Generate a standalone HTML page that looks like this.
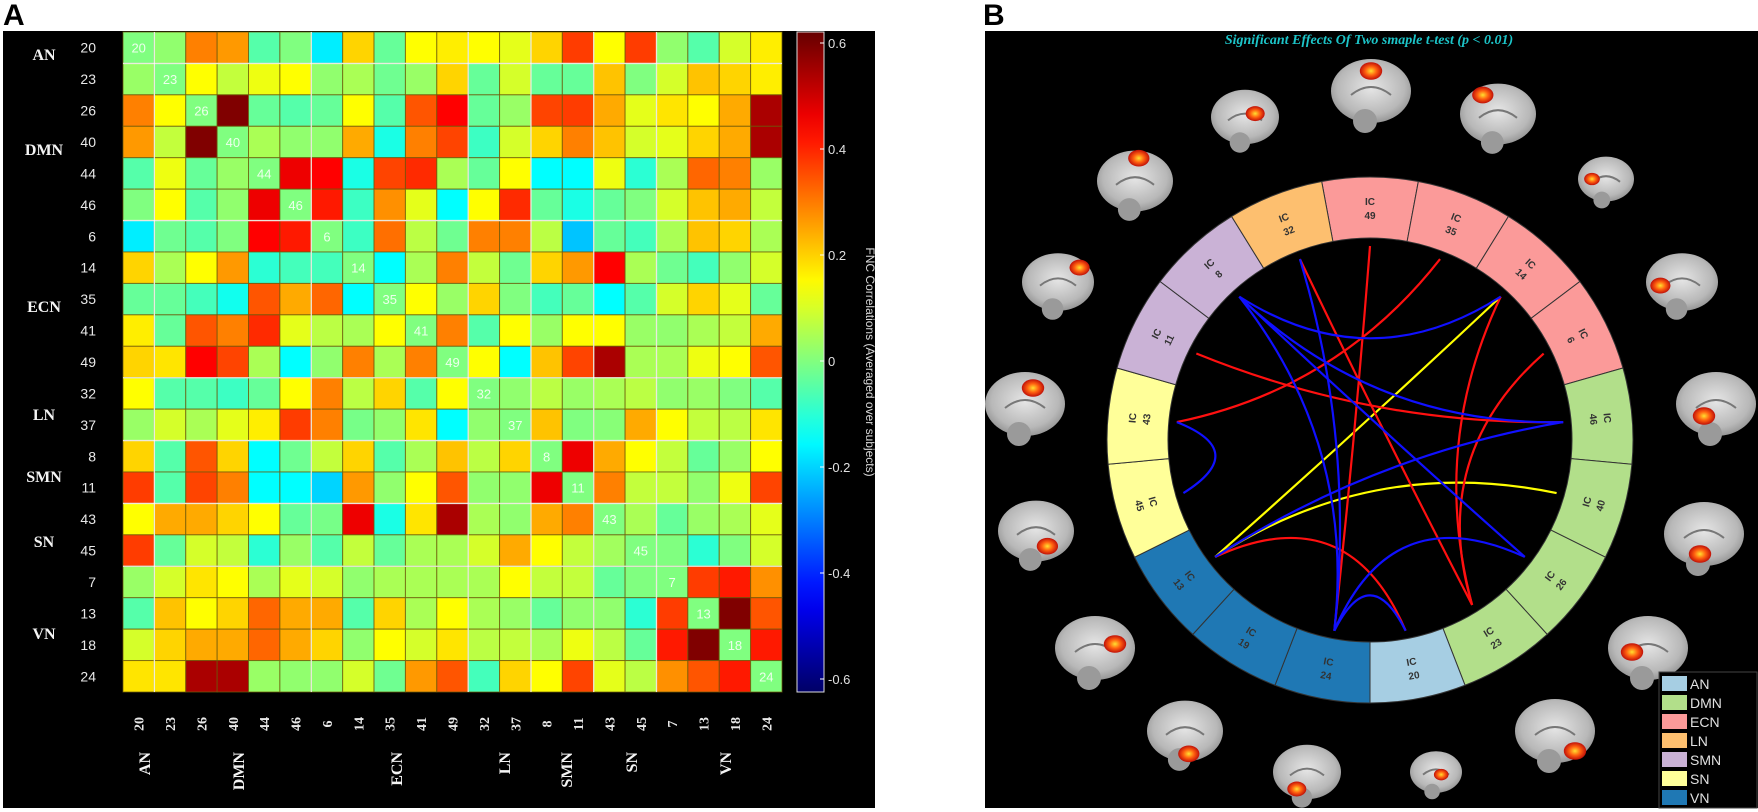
<!DOCTYPE html>
<html><head><meta charset="utf-8"><style>
html,body{margin:0;padding:0;background:#fff;}
svg{display:block;}
</style></head><body>
<svg id="fig" width="1758" height="812" viewBox="0 0 1758 812" xmlns="http://www.w3.org/2000/svg">
<defs>
<linearGradient id="cbgrad" x1="0" y1="1" x2="0" y2="0"></linearGradient>
<radialGradient id="brainGrad" cx="50%" cy="45%" r="60%"><stop offset="0" stop-color="#e6e6e6"/><stop offset="0.7" stop-color="#b8b8b8"/><stop offset="1" stop-color="#8a8a8a"/></radialGradient>
<radialGradient id="blobGrad" cx="50%" cy="50%" r="50%"><stop offset="0" stop-color="#ffe030"/><stop offset="0.5" stop-color="#ff6010"/><stop offset="1" stop-color="#c01008"/></radialGradient>
</defs>
<text x="3" y="25" font-family="Liberation Sans, sans-serif" font-weight="bold" font-size="30" fill="#000">A</text>
<text x="983" y="25" font-family="Liberation Sans, sans-serif" font-weight="bold" font-size="30" fill="#000">B</text>
<rect x="3" y="31" width="872" height="777" fill="#000"/>
<rect x="985" y="31" width="773" height="777" fill="#000"/>
<g id="heat"></g>
<g id="cbar"></g>
<g id="brains"></g>
<g id="ring"></g>
<g id="chords"></g>
<text x="1369" y="44" text-anchor="middle" font-family="Liberation Serif, serif" font-style="italic" font-weight="bold" font-size="14" fill="#1cc4c8">Significant Effects Of Two smaple t-test (p &lt; 0.01)</text>
<g id="legend"></g>
</svg>
<script>
// ---------- Panel A data ----------
const icLabels = ["20","23","26","40","44","46","6","14","35","41","49","32","37","8","11","43","45","7","13","18","24"];
const groupNames = ["AN","DMN","ECN","LN","SMN","SN","VN"];
const groupRowY = [54,149,306,414,476,541,633];
const groupColX = [144,238,396,504,566,631,725];
const boundaryIdx = [1,6,11,13,15,17];
const cbTicks = [0.6,0.4,0.2,0,-0.2,-0.4,-0.6];
const fnc = [
[0,0.02,0.3,0.27,-0.05,0,-0.17,0.2,-0.03,0.15,0.17,0.15,0.12,0.2,0.38,0.15,0.38,0.02,-0.05,0.1,0.17],
[0.03,0,0.15,0.08,0.13,0.15,0.02,0.05,-0.02,0.03,0.2,-0.03,0.1,-0.03,-0.03,0.22,0,0.1,0.22,0.2,0.17],
[0.3,0.15,0,0.6,-0.03,-0.05,-0.03,0.15,-0.05,0.35,0.45,-0.03,0.03,0.37,0.38,0.25,0.12,0.18,0.15,0.25,0.55],
[0.27,0.08,0.6,0,0.05,0.02,0.02,0.25,-0.12,0.3,0.37,-0.08,0.1,0.2,0.3,0.22,0.1,0.12,0.2,0.25,0.55],
[-0.05,0.13,-0.03,0.03,0,0.47,0.45,-0.12,0.37,0.4,0.05,-0.03,0.15,-0.15,-0.15,0.13,-0.1,0.05,0.33,0.3,0.03],
[0,0.15,-0.05,0.02,0.47,0,0.42,-0.08,0.28,0.12,-0.15,0.15,0.4,-0.03,-0.12,-0.03,0,0.1,0.22,0.25,0.08],
[-0.17,-0.02,-0.05,0,0.45,0.42,0,-0.08,0.32,0.07,-0.02,0.3,0.3,0.07,-0.22,-0.03,-0.07,0.05,0.22,0.2,0.05],
[0.2,0.05,0.15,0.27,-0.1,-0.07,-0.07,0,-0.15,0.05,0.3,0.08,-0.02,0.2,0.27,0.45,0.05,-0.02,-0.07,0.02,0.1],
[-0.03,-0.03,-0.07,-0.13,0.35,0.25,0.33,-0.15,0,0.15,0.03,0.2,0,-0.07,-0.03,-0.15,-0.05,0.1,0.2,0.12,-0.03],
[0.17,-0.03,0.35,0.3,0.4,0.12,0.07,0.05,0.15,0,0.3,-0.05,0.15,0.03,0.15,0.15,0.03,0.02,0.05,0.08,0.25],
[0.2,0.18,0.45,0.37,0.05,-0.15,0.02,0.3,0.05,0.3,0,0.15,-0.15,0.22,0.37,0.55,0.05,0.05,0.13,0.15,0.35],
[0.15,-0.05,-0.05,-0.08,-0.03,0.15,0.3,0.07,0.2,-0.05,0.15,0,0.02,0.07,0.03,0.05,0.07,0.02,0.03,0,-0.05],
[0.03,0.1,0.05,0.12,0.17,0.38,0.3,-0.01,0.02,0.18,-0.15,0.02,0,0.22,0,0.01,0.25,0.15,0.08,0.07,0.18],
[0.2,-0.05,0.35,0.2,-0.15,-0.02,0.08,0.2,-0.05,0.05,0.22,0.07,0.2,0,0.47,0.25,0.15,0.08,-0.03,0.03,0.15],
[0.38,-0.05,0.37,0.3,-0.15,-0.15,-0.2,0.27,0.02,0.15,0.35,0.02,0.02,0.47,0,0.3,0.08,0.08,0.02,0.13,0.37],
[0.15,0.25,0.25,0.2,0.15,-0.03,-0.01,0.47,-0.12,0.18,0.55,0.05,0.02,0.25,0.3,0,0.05,-0.03,0.03,0.05,0.12],
[0.38,-0.03,0.1,0.08,-0.1,0.03,-0.05,0.08,-0.03,0.05,0.05,0.1,0.25,0.15,0.08,0.04,0,0,-0.1,0,0.1],
[0.03,0.1,0.18,0.15,0.05,0.12,0.1,0.02,0.05,0.05,0.05,0.05,0.15,0.08,0.08,-0.03,0,0,0.38,0.42,0.28],
[-0.05,0.22,0.15,0.2,0.33,0.25,0.25,-0.05,0.2,0.05,0.15,0.05,0.03,-0.03,0.02,0.02,-0.1,0.38,0,0.6,0.35],
[0.1,0.2,0.25,0.25,0.33,0.25,0.2,0.02,0.15,0.1,0.18,0.07,0.08,0.05,0.13,0.07,-0.03,0.42,0.6,0,0.42],
[0.18,0.18,0.55,0.55,0.03,0.02,0.02,0.1,-0.02,0.27,0.35,-0.07,0.2,0.15,0.37,0.12,0.07,0.28,0.35,0.42,0]
];
// ---------- Panel B data ----------
const ringICs = ["49","35","14","6","46","40","26","23","20","24","19","13","45","43","11","8","32"];
const ringNets = ["ECN","ECN","ECN","ECN","DMN","DMN","DMN","DMN","AN","VN","VN","VN","SN","SN","SMN","SMN","LN"];
const legendNets = ["AN","DMN","ECN","LN","SMN","SN","VN"];
const netColors = ["#a6cee3","#b2df8a","#fb9a99","#fdbf6f","#cab2d6","#ffff99","#1f78b4"];
const chordFrom = ["13","13","49","35","11","6","14","32","20","8","8","8","32","45","13","8","24","20"];
const chordTo   = ["14","40","24","43","46","23","23","23","13","14","26","24","24","43","46","46","26","24"];
const chordType = ["yellow","yellow","red","red","red","red","red","red","red","blue","blue","blue","blue","blue","blue","blue","blue","blue"];

const NS="http://www.w3.org/2000/svg";
function mk(tag,attrs,parent){const e=document.createElementNS(NS,tag);for(const k in attrs)e.setAttribute(k,attrs[k]);if(parent)parent.appendChild(e);return e;}
function clamp(x){return Math.max(0,Math.min(1,x));}
function jet(v){const t=(v+0.6)/1.2;const r=clamp(1.5-Math.abs(4*t-3)),g=clamp(1.5-Math.abs(4*t-2)),b=clamp(1.5-Math.abs(4*t-1));return `rgb(${Math.round(r*255)},${Math.round(g*255)},${Math.round(b*255)})`;}

// scales
const X0=123,Y0=32,W=659,H=660,N=icLabels.length,cw=W/N,ch=H/N;
const xCell=i=>X0+i*cw, yCell=j=>Y0+j*ch;
const heat=document.getElementById('heat');
for(let r=0;r<N;r++){for(let c=0;c<N;c++){
  const rc=mk('rect',{x:xCell(c),y:yCell(r),width:cw,height:ch,fill:jet(fnc[r][c]),stroke:'rgba(110,90,10,0.75)','stroke-width':1},heat);
  
  
}}
for(const b of boundaryIdx){
  const l1=mk('line',{x1:xCell(b),x2:xCell(b),y1:Y0,y2:Y0+H,stroke:'#fff','stroke-width':1.3,opacity:0.85},heat);
  
  
  const l2=mk('line',{y1:yCell(b),y2:yCell(b),x1:X0,x2:X0+W,stroke:'#fff','stroke-width':1.3,opacity:0.85},heat);
  
  
}
for(let i=0;i<N;i++){
  const d=mk('text',{x:xCell(i)+cw/2,y:yCell(i)+ch/2+5,'text-anchor':'middle','font-family':'Liberation Sans, sans-serif','font-size':13,fill:'#fff',opacity:0.85},heat);
  d.textContent=icLabels[i];
  
  
  const rl=mk('text',{x:96,y:yCell(i)+ch/2+5,'text-anchor':'end','font-family':'Liberation Sans, sans-serif','font-size':14,fill:'#e8e8e8'},heat);
  rl.textContent=icLabels[i];
  
  
  const cx=xCell(i)+cw/2;
  const cl=mk('text',{x:0,y:0,transform:`translate(${cx+5},${724}) rotate(-90)`,'text-anchor':'middle','font-family':'Liberation Serif, serif','font-weight':'bold','font-size':14,fill:'#e8e8e8'},heat);
  cl.textContent=icLabels[i];
  
  
}
for(let g=0;g<groupNames.length;g++){
  const t=mk('text',{x:44,y:groupRowY[g]+6,'text-anchor':'middle','font-family':'Liberation Serif, serif','font-weight':'bold','font-size':16,fill:'#f4f4f4'},heat);
  t.textContent=groupNames[g];
  
  
  const t2=mk('text',{x:0,y:0,transform:`translate(${groupColX[g]+6},752) rotate(-90)`,'text-anchor':'end','font-family':'Liberation Serif, serif','font-weight':'bold','font-size':16,fill:'#f4f4f4'},heat);
  t2.textContent=groupNames[g];
  
  
}
// colorbar
const grad=document.getElementById('cbgrad');
for(let k=0;k<=24;k++){const v=-0.63+1.26*k/24;mk('stop',{offset:k/24,'stop-color':jet(v)},grad);}
const cbar=document.getElementById('cbar');
const CB_TOP=32,CB_BOT=692;
const yCb=v=>361-(v/0.2)*106;
mk('rect',{x:797,y:CB_TOP,width:27,height:CB_BOT-CB_TOP,fill:'url(#cbgrad)',stroke:'#ddd','stroke-width':1},cbar);
for(const v of cbTicks){
  const y=yCb(v);
  mk('line',{x1:820,x2:824,y1:y,y2:y,stroke:'#fff','stroke-width':1},cbar);
  const t=mk('text',{x:828,y:y+5,'font-family':'Liberation Sans, sans-serif','font-size':13,fill:'#e0e0e0'},cbar);
  t.textContent=(v===0?'0':v.toFixed(1));
  
  
}
const cbt=mk('text',{x:0,y:0,transform:'translate(866,362) rotate(90)','text-anchor':'middle','font-family':'Liberation Sans, sans-serif','font-size':12,fill:'#d8d8d8'},cbar);
cbt.textContent='FNC Correlations (Averaged over subjects)';



// ---------- Panel B ----------
const CX=1370,CY=440,RO=263,RI=202;
const M=ringICs.length,step=360/M;
const ang=i=>i*step;
function pt(deg,r){const a=deg*Math.PI/180;return [CX+r*Math.sin(a),CY-r*Math.cos(a)];}
const ring=document.getElementById('ring');
for(let i=0;i<M;i++){
  const a0=ang(i)-step/2,a1=ang(i)+step/2;
  const p0=pt(a0,RO),p1=pt(a1,RO),p2=pt(a1,RI),p3=pt(a0,RI);
  const col=netColors[legendNets.indexOf(ringNets[i])];
  const seg=mk('path',{d:`M${p0} A${RO},${RO} 0 0 1 ${p1} L${p2} A${RI},${RI} 0 0 0 ${p3} Z`,fill:col,stroke:'#333','stroke-width':1},ring);
  
  
  const th=ang(i);const rot=(th>90&&th<270)?th-180:th;
  const [tx,ty]=pt(th,232);
  const g=mk('g',{transform:`translate(${tx},${ty}) rotate(${rot})`},ring);
  const t1=mk('text',{x:0,y:-3,'text-anchor':'middle','font-family':'Liberation Sans, sans-serif','font-weight':'bold','font-size':10,fill:'#333'},g);
  t1.textContent='IC';
  
  
  const t2=mk('text',{x:0,y:11,'text-anchor':'middle','font-family':'Liberation Sans, sans-serif','font-weight':'bold','font-size':10,fill:'#333'},g);
  t2.textContent=ringICs[i];
  
  
}
const chords=document.getElementById('chords');
const ccol={red:'#ff1010',blue:'#1010ff',yellow:'#ffff00'};
for(let k=0;k<chordFrom.length;k++){
  const i=ringICs.indexOf(chordFrom[k]),j=ringICs.indexOf(chordTo[k]);
  const a=pt(ang(i),RI-8),b=pt(ang(j),RI-8);
  let diff=Math.abs(ang(i)-ang(j));if(diff>180)diff=360-diff;
  const mid=(ang(i)+ang(j))/2+((Math.abs(ang(i)-ang(j))>180)?180:0);
  const kr=diff<60?120:(diff<120?60:15);
  const c=pt(mid,kr);
  const p=mk('path',{d:`M${a} Q${c} ${b}`,fill:'none',stroke:ccol[chordType[k]],'stroke-width':2.2},chords);
  
  
}
// brains (decorative)
const brainPos=[[1371,91,40],[1245,117,34],[1498,114,38],[1135,181,38],[1606,179,28],[1058,282,36],[1682,282,36],[1025,404,40],[1716,404,40],[1036,531,38],[1704,534,40],[1095,648,40],[1648,648,40],[1185,731,38],[1555,731,40],[1307,772,34],[1436,772,26]];
const brains=document.getElementById('brains');
brainPos.forEach((b,k)=>{
  const g=mk('g',{},brains);
  
  
  mk('ellipse',{cx:b[0],cy:b[1],rx:b[2],ry:b[2]*0.8,fill:'url(#brainGrad)'},g);
  mk('ellipse',{cx:b[0]-b[2]*0.15,cy:b[1]+b[2]*0.75,rx:b[2]*0.3,ry:b[2]*0.3,fill:'#9a9a9a'},g);
  mk('path',{d:`M${b[0]-b[2]*0.5},${b[1]+b[2]*0.1} q${b[2]*0.5},-${b[2]*0.4} ${b[2]},0`,fill:'none',stroke:'#777','stroke-width':2},g);
  const ox=[0,0.3,-0.4,0.1,-0.5,0.6,-0.6,0.2,-0.3,0.3,-0.1,0.5,-0.4,0.1,0.5,-0.3,0.2][k];
  const oy=[-0.5,-0.1,-0.5,-0.6,0,-0.4,0.1,-0.4,0.3,0.4,0.5,-0.1,0.1,0.6,0.5,0.5,0.1][k];
  mk('ellipse',{cx:b[0]+ox*b[2],cy:b[1]+oy*b[2],rx:b[2]*0.28,ry:b[2]*0.22,fill:'url(#blobGrad)'},g);
});
// legend
const legend=document.getElementById('legend');
mk('rect',{x:1659,y:672,width:98,height:136,fill:'#000',stroke:'#444','stroke-width':1},legend);
legendNets.forEach((n,i)=>{
  const y=676+i*19;
  const s=mk('rect',{x:1662,y:y,width:25,height:15,fill:netColors[i]},legend);
  
  
  const t=mk('text',{x:1690,y:y+13,'font-family':'Liberation Sans, sans-serif','font-size':14,fill:'#e0e0e0'},legend);
  t.textContent=n;
  
  
});
</script>
</body></html>
